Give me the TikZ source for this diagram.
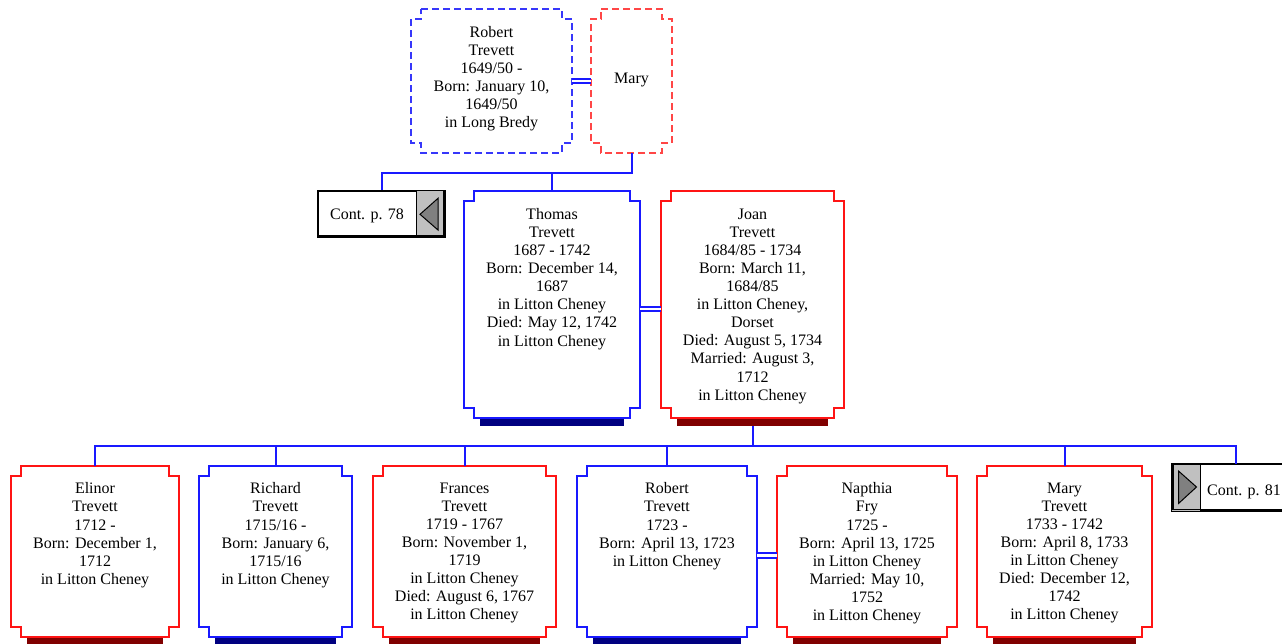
\documentclass[tikz,border=0pt]{standalone}
\usepackage{fontspec}
\setmainfont{Liberation Serif}
\usetikzlibrary{calc}
\definecolor{mblue}{RGB}{25,25,255}
\definecolor{fred}{RGB}{255,20,20}
\definecolor{dblue}{RGB}{55,55,250}
\definecolor{dred}{RGB}{255,70,70}
\definecolor{navy}{RGB}{0,0,128}
\definecolor{maroon}{RGB}{128,0,0}
\definecolor{cgray}{RGB}{192,192,192}
\definecolor{tgray}{RGB}{128,128,128}
\tikzset{
  boxarea/.style={draw=none, inner sep=0pt, outer sep=0pt, shape=rectangle},
  ptext/.style={inner sep=0pt, align=center, font=\fontsize{16}{18.1}\selectfont},
  maleline/.style={draw=mblue, line width=2pt},
  femline/.style={draw=fred, line width=2pt},
  maledash/.style={draw=dblue, line width=1.3pt, dash pattern=on 7pt off 4pt},
  femdash/.style={draw=dred, line width=1.3pt, dash pattern=on 7pt off 4pt},
  conn/.style={draw=mblue, line width=2pt},
  dbl/.style={draw=mblue, line width=1.8pt, double=white, double distance=2.8pt},
  contframe/.style={draw=black, line width=1.2pt, fill=white},
}
% name, x1, y1, x2, y2, outline style, shadow style, text offset, text
\newcommand\person[9]{%
  \node[boxarea, minimum width={#4-#2}, minimum height={#5-#3}] (#1) at ({(#2+#4)/2},{(#3+#5)/2}) {};
  \path[#7] ([xshift=16pt]#1.south west) rectangle ([xshift=-16pt,yshift=-8pt]#1.south east);
  \draw[#6, fill=white] ([xshift=10pt]#1.north west) -- ([xshift=-10pt]#1.north east) -- ++(0,10) -- ++(10,0)
     -- ([yshift=10pt]#1.south east) -- ++(-10,0) -- ++(0,10) -- ([xshift=10pt]#1.south west)
     -- ++(0,-10) -- ++(-10,0) -- ([yshift=-10pt]#1.north west) -- ++(10,0) -- cycle;
  \node[ptext, anchor=north] (#1-t) at ([yshift=-#8pt]#1.north) {#9};
}
\begin{document}
\begin{tikzpicture}[x=1pt, y=-1pt]
\useasboundingbox (0,0) rectangle (1282,643);
\clip (0,0) rectangle (1282,643);

% generation 1
\person{robertA}{411}{9}{572}{153}{maledash}{}{17}{Robert\\Trevett\\1649/50 -\\Born: January 10,\\1649/50\\in Long Bredy}
\person{maryA}{591}{9}{672}{153}{femdash}{}{64}{Mary}

% generation 2
\person{thomas}{464}{191}{640}{418}{maleline}{fill=navy}{17}{Thomas\\Trevett\\1687 - 1742\\Born: December 14,\\1687\\in Litton Cheney\\Died: May 12, 1742\\in Litton Cheney}
\person{joan}{661}{191}{844}{418}{femline}{fill=maroon}{17.5}{Joan\\Trevett\\1684/85 - 1734\\Born: March 11,\\1684/85\\in Litton Cheney,\\Dorset\\Died: August 5, 1734\\Married: August 3,\\1712\\in Litton Cheney}

% generation 3
\person{elinor}{11}{466}{179}{637}{femline}{fill=maroon}{16.5}{Elinor\\Trevett\\1712 -\\Born: December 1,\\1712\\in Litton Cheney}
\person{richard}{199}{466}{352}{637}{maleline}{fill=navy}{16.5}{Richard\\Trevett\\1715/16 -\\Born: January 6,\\1715/16\\in Litton Cheney}
\person{frances}{373}{466}{556}{637}{femline}{fill=maroon}{16.5}{Frances\\Trevett\\1719 - 1767\\Born: November 1,\\1719\\in Litton Cheney\\Died: August 6, 1767\\in Litton Cheney}
\person{robertC}{577}{466}{757}{637}{maleline}{fill=navy}{16.5}{Robert\\Trevett\\1723 -\\Born: April 13, 1723\\in Litton Cheney}
\person{napthia}{777}{466}{957}{637}{femline}{fill=maroon}{16.5}{Napthia\\Fry\\1725 -\\Born: April 13, 1725\\in Litton Cheney\\Married: May 10,\\1752\\in Litton Cheney}
\person{maryC}{977}{466}{1152}{637}{femline}{fill=maroon}{16.5}{Mary\\Trevett\\1733 - 1742\\Born: April 8, 1733\\in Litton Cheney\\Died: December 12,\\1742\\in Litton Cheney}

% continuation boxes
\node[contframe, minimum width=127, minimum height=46] (cont78) at (381.5,214) {};
\fill[cgray] (416,191) rectangle (cont78.south east);
\draw[black, line width=1pt] (416,191) -- (416,237);
\draw[black, line width=1pt, fill=tgray] (420,214.3) -- (438,198.3) -- (438,230) -- cycle;
\draw[black, line width=1.2pt] (cont78.north west) rectangle (cont78.south east);
\draw[black, line width=1.5pt] ([xshift=-1.5pt]cont78.north east) -- ([xshift=-1.5pt,yshift=1.5pt]cont78.south east) -- ([xshift=1pt,yshift=1.5pt]cont78.south west);
\node[ptext, anchor=base] (cont78-t) at (367,219) {Cont. p. 78};

\node[contframe, minimum width=127, minimum height=46] (cont81) at (1235.5,487.5) {};
\fill[cgray] (cont81.north west) rectangle (1200.5,510.5);
\draw[black, line width=1pt] (1200.5,464.5) -- (1200.5,510.5);
\draw[black, line width=1pt, fill=tgray] (1178.5,471) -- (1196.5,487) -- (1178.5,503.5) -- cycle;
\draw[black, line width=1.2pt] (cont81.north west) rectangle (cont81.south east);
\draw[black, line width=1.5pt] ([xshift=1.5pt,yshift=-1pt]cont81.north west) -- ([xshift=1.5pt,yshift=1.5pt]cont81.south west) -- ([yshift=1.5pt]cont81.south east);
\node[ptext, anchor=base west] (cont81-t) at (1207,495.5) {Cont. p. 81};

% connectors
\coordinate (bar1) at (631.5,173);
\draw[conn] (maryA.south) -- (bar1) -| (cont78.north);
\draw[conn] (thomas.north) -- (thomas.north |- bar1);

\coordinate (bar2) at (752.5,446);
\draw[conn] ([yshift=-8pt]joan.south) -- (bar2);
\draw[conn] (elinor.north) |- (bar2 -| cont81.north) -- (cont81.north);
\draw[conn] (richard.north) -- (richard.north |- bar2);
\draw[conn] (frances.north) -- (frances.north |- bar2);
\draw[conn] (robertC.north) -- (robertC.north |- bar2);
\draw[conn] (maryC.north) -- (maryC.north |- bar2);

% marriages
\draw[dbl] (robertA.east |- 0,81) -- (maryA.west |- 0,81);
\draw[dbl] (thomas.east |- 0,309) -- (joan.west |- 0,309);
\draw[dbl] (robertC.east |- 0,555.5) -- (napthia.west |- 0,555.5);
\end{tikzpicture}
\end{document}
